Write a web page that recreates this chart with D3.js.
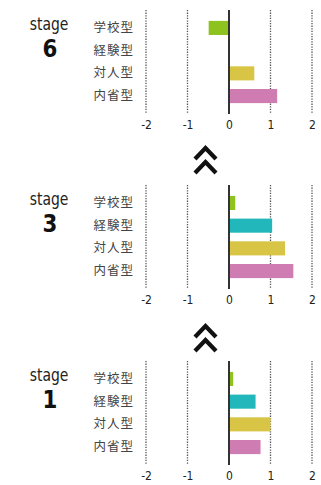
<!DOCTYPE html>
<html>
<head>
<meta charset="utf-8">
<script src="https://cdn.jsdelivr.net/npm/d3@7"></script>
<style>
  body { margin: 0; background: #fff; }
  svg { display: block; }
</style>
</head>
<body>
<script>
// data
var categories = ["学校型", "経験型", "対人型", "内省型"];
var colors = ["#8dc21f", "#22b8bb", "#d8c445", "#cf7cb3"];
var stages = ["6", "3", "1"];
var stage6 = [-0.49, 0, 0.61, 1.16];
var stage3 = [0.15, 1.04, 1.35, 1.55];
var stage1 = [0.1, 0.64, 1.0, 0.76];
var tickValues = [-2, -1, 0, 1, 2];

var values = [stage6, stage3, stage1];

var width = 321, height = 485;
var panelTop = [10, 185, 361];
var panelH = 104;
var condensed = "'DejaVu Sans Condensed', 'DejaVu Sans', sans-serif";

var svg = d3.select("body")
  .append("svg")
  .attr("width", width)
  .attr("height", height);

var x = d3.scaleLinear().domain([-2, 2]).range([146, 312]);

function drawPanel(i) {
  var top = panelTop[i];
  var y = d3.scaleBand()
    .domain(categories)
    .range([top, top + panelH])
    .paddingInner(0.38)
    .paddingOuter(0.48);

  var g = svg.append("g");

  // dotted gridlines
  g.selectAll("line.grid")
    .data(tickValues.filter(function(d) { return d !== 0; }))
    .enter()
    .append("line")
    .attr("class", "grid")
    .attr("x1", function(d) { return x(d); })
    .attr("x2", function(d) { return x(d); })
    .attr("y1", top)
    .attr("y2", top + panelH)
    .attr("stroke", "#555")
    .attr("stroke-width", 1.3)
    .attr("stroke-dasharray", "1.3,1.3");

  // bars
  g.selectAll("rect")
    .data(values[i])
    .enter()
    .append("rect")
    .attr("x", function(d) { return x(Math.min(0, d)); })
    .attr("width", function(d) { return Math.abs(x(d) - x(0)); })
    .attr("y", function(d, j) { return y(categories[j]); })
    .attr("height", y.bandwidth())
    .attr("fill", function(d, j) { return colors[j]; });

  // zero line
  g.append("line")
    .attr("x1", x(0)).attr("x2", x(0))
    .attr("y1", top).attr("y2", top + panelH)
    .attr("stroke", "#333")
    .attr("stroke-width", 2);

  // category labels
  g.append("g")
    .attr("transform", "translate(134,0)")
    .call(d3.axisLeft(y).tickSize(0).tickPadding(0))
    .call(function(a) { a.select(".domain").remove(); })
    .selectAll("text")
    .attr("fill", "#444")
    .style("font-family", "'Noto Sans CJK JP', sans-serif")
    .style("font-size", "12.5px")
    .style("letter-spacing", "1px");

  // x tick labels
  g.append("g")
    .attr("transform", "translate(0," + (top + panelH + 6) + ")")
    .call(d3.axisBottom(x).tickValues(tickValues).tickSize(0).tickPadding(0)
      .tickFormat(function(d) { return String(d); }))
    .call(function(a) { a.select(".domain").remove(); })
    .selectAll("text")
    .attr("fill", "#222")
    .style("font-family", condensed)
    .style("font-stretch", "condensed")
    .style("font-size", "12px");

  // stage label
  g.append("text")
    .attr("transform", "translate(49," + (top + 20) + ") scale(0.86,1)")
    .attr("text-anchor", "middle")
    .style("font-family", condensed)
    .style("font-stretch", "condensed")
    .style("font-size", "18px")
    .attr("fill", "#222")
    .text("stage");

  g.append("text")
    .attr("transform", "translate(50," + (top + 47) + ") scale(0.95,1)")
    .attr("text-anchor", "middle")
    .style("font-family", condensed)
    .style("font-stretch", "condensed")
    .style("font-weight", "bold")
    .style("font-size", "25px")
    .attr("fill", "#111")
    .text(stages[i]);
}

for (var i = 0; i < 3; i++) drawPanel(i);

// double chevrons between panels
var chevronTops = [145, 323];
chevronTops.forEach(function(t) {
  var cx = 205.5;
  [0, 14].forEach(function(off) {
    svg.append("path")
      .attr("d", "M" + (cx - 10.5) + "," + (t + off + 14) +
                 " L" + cx + "," + (t + off + 3) +
                 " L" + (cx + 10.5) + "," + (t + off + 14))
      .attr("fill", "none")
      .attr("stroke", "#111")
      .attr("stroke-width", 4.2);
  });
});
</script>
</body>
</html>
